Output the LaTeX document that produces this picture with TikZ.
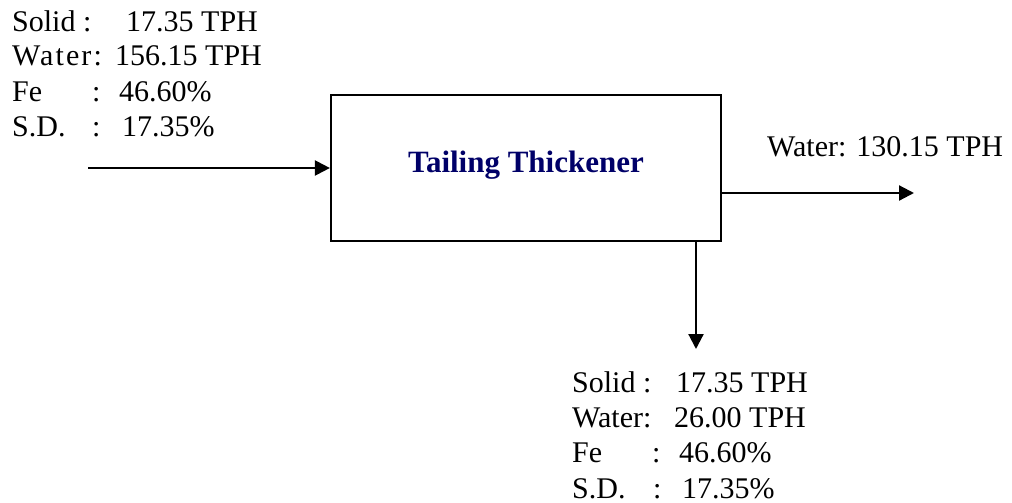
\documentclass[tikz,border=0pt]{standalone}
\usepackage{fontspec}
\setmainfont{Liberation Serif}
\usetikzlibrary{arrows.meta}
\definecolor{titlenavy}{RGB}{0,0,104}
\begin{document}
\begin{tikzpicture}[x=1pt,y=-1pt,
  lbl/.style={anchor=base west,inner sep=0pt,font=\fontsize{30}{35}\selectfont},
  boxst/.style={draw,line width=2.2pt,minimum width=390pt,minimum height=146pt,inner sep=0pt},
  ttl/.style={anchor=base,inner sep=0pt,text=titlenavy,font=\fontsize{31}{36}\selectfont\bfseries},
  arr/.style={line width=2.2pt,-{Triangle[length=15pt,width=15pt]}}]
\useasboundingbox (0,0) rectangle (1012,503);
% process box
\node[boxst] (box) at (526,168) {};
\node[ttl] (title) at (526,172) {Tailing Thickener};
% feed data
\node[lbl] (f1) at (12,32) {\makebox[114pt][l]{Solid :}17.35 TPH};
\node[lbl] (f2) at (12,66) {\makebox[103pt][l]{\addfontfeature{LetterSpace=7}Water:}156.15 TPH};
\node[lbl] (f3) at (12,101) {\makebox[80pt][l]{Fe}\makebox[27pt][l]{:}46.60\%};
\node[lbl] (f4) at (12,136) {\makebox[80pt][l]{S.D.}\makebox[30pt][l]{:}17.35\%};
% overflow
\node[lbl] (o1) at (767,156) {Water: 130.15 TPH};
% underflow data
\node[lbl] (u1) at (572,392) {\makebox[104pt][l]{Solid :}17.35 TPH};
\node[lbl] (u2) at (572,427) {\makebox[102pt][l]{Water:}26.00 TPH};
\node[lbl] (u3) at (572,462) {\makebox[80pt][l]{Fe}\makebox[27pt][l]{:}46.60\%};
\node[lbl] (u4) at (572,498) {\makebox[81pt][l]{S.D.}\makebox[29pt][l]{:}17.35\%};
% connectors
\coordinate (feed) at (88,168);
\coordinate (over) at (914,193);
\coordinate (under) at (696,349);
\draw[arr] (feed) -- (box.west);
\draw[arr] (box.east |- over) -- (over);
\draw[arr] (box.south -| under) -- (under);
\end{tikzpicture}
\end{document}
